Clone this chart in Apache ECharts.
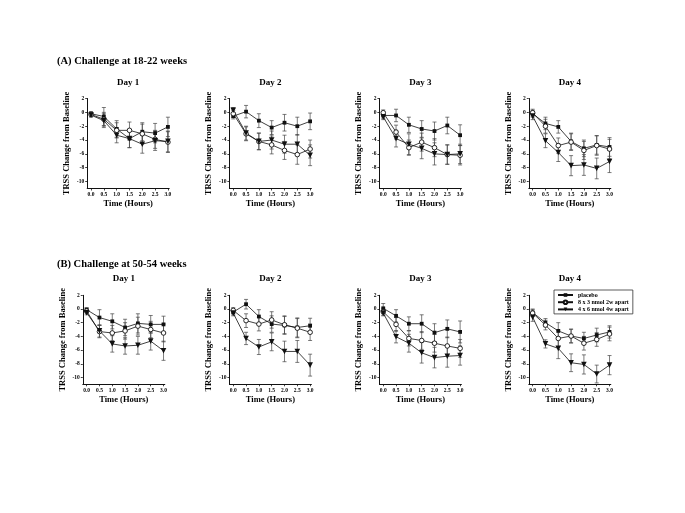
<!DOCTYPE html>
<html><head><meta charset="utf-8">
<script src="https://cdn.jsdelivr.net/npm/echarts@6/dist/echarts.min.js"></script>
<style>html,body{margin:0;padding:0;background:#fff}#c{width:685px;height:513px}</style>
</head><body><div id="c"></div>
<script>
// ---------- data ----------
const times = [0, 0.5, 1.0, 1.5, 2.0, 2.5, 3.0];
const xTicks = [0, 0.5, 1.0, 1.5, 2.0, 2.5, 3.0];
const yTicks = [2, 0, -2, -4, -6, -8, -10];
const seriesNames = ['placebo', '8 x 3 nmol 2w apart', '4 x 6 nmol 4w apart'];
const dayTitles = ['Day 1', 'Day 2', 'Day 3', 'Day 4'];
const sectionTitles = ['(A) Challenge at 18-22 weeks', '(B) Challenge at 50-54 weeks'];
const xAxisTitle = 'Time (Hours)';
const yAxisTitle = 'TRSS Change from Baseline';

// (A) Day 1
const a1Placebo = [-0.2, -0.6, -2.4, -3.8, -2.8, -3.0, -2.1];
const a1PlaceboErr = [0.3, 1.3, 1.2, 1.3, 1.3, 1.4, 1.4];
const a1Dose8x3 = [-0.3, -1.0, -2.6, -2.6, -3.1, -3.9, -4.3];
const a1Dose8x3Err = [0.3, 1.0, 1.1, 1.2, 1.4, 1.3, 1.5];
const a1Dose4x6 = [-0.4, -1.2, -3.3, -3.8, -4.6, -4.1, -4.2];
const a1Dose4x6Err = [0.3, 1.0, 1.1, 1.3, 1.3, 1.4, 1.5];
// (A) Day 2
const a2Placebo = [-0.55, 0.1, -1.2, -2.2, -1.5, -2.0, -1.3];
const a2PlaceboErr = [0.4, 0.9, 1.0, 1.0, 1.2, 1.3, 1.2];
const a2Dose8x3 = [-0.2, -3.1, -4.2, -4.7, -5.5, -6.1, -5.3];
const a2Dose8x3Err = [0.5, 1.0, 1.2, 1.3, 1.3, 1.4, 1.3];
const a2Dose4x6 = [0.3, -3.0, -4.2, -4.0, -4.6, -4.6, -6.2];
const a2Dose4x6Err = [0.4, 1.0, 1.2, 1.3, 1.3, 1.4, 1.5];
// (A) Day 3
const a3Placebo = [-0.45, -0.45, -1.8, -2.4, -2.7, -1.9, -3.3];
const a3PlaceboErr = [0.4, 0.9, 1.1, 1.2, 1.3, 1.2, 1.5];
const a3Dose8x3 = [-0.05, -2.85, -5.1, -4.3, -5.1, -6.1, -6.2];
const a3Dose8x3Err = [0.4, 1.0, 1.1, 1.3, 1.3, 1.4, 1.4];
const a3Dose4x6 = [-0.65, -3.8, -4.6, -5.2, -6.0, -6.1, -6.0];
const a3Dose4x6Err = [0.4, 1.2, 1.5, 1.5, 1.6, 1.4, 1.4];
// (A) Day 4
const a4Placebo = [-0.2, -1.6, -2.1, -4.2, -5.2, -4.7, -5.0];
const a4PlaceboErr = [0.5, 0.9, 0.9, 1.2, 1.2, 1.35, 1.35];
const a4Dose8x3 = [-0.05, -2.0, -4.8, -4.3, -5.5, -4.8, -5.3];
const a4Dose8x3Err = [0.5, 1.0, 1.1, 1.2, 1.3, 1.4, 1.4];
const a4Dose4x6 = [-0.55, -4.1, -5.8, -7.7, -7.6, -8.1, -7.1];
const a4Dose4x6Err = [0.5, 1.0, 1.3, 1.45, 1.5, 1.5, 1.6];
// (B) Day 1
const b1Placebo = [-0.1, -1.25, -1.8, -2.7, -2.1, -2.25, -2.25];
const b1PlaceboErr = [0.3, 1.15, 1.1, 1.2, 1.4, 1.3, 1.2];
const b1Dose8x3 = [-0.3, -3.3, -3.5, -3.2, -2.5, -3.0, -3.5];
const b1Dose8x3Err = [0.3, 0.9, 1.1, 1.2, 1.3, 1.2, 1.3];
const b1Dose4x6 = [-0.55, -3.2, -5.1, -5.4, -5.3, -4.7, -6.1];
const b1Dose4x6Err = [0.3, 0.9, 1.2, 1.2, 1.3, 1.3, 1.4];
// (B) Day 2
const b2Placebo = [-0.45, 0.7, -1.1, -2.2, -2.4, -2.7, -2.45];
const b2PlaceboErr = [0.4, 0.7, 1.0, 1.2, 1.3, 1.4, 1.1];
const b2Dose8x3 = [-0.2, -1.7, -2.2, -1.6, -2.3, -2.8, -3.4];
const b2Dose8x3Err = [0.4, 1.0, 1.0, 1.2, 1.3, 1.4, 1.2];
const b2Dose4x6 = [-0.6, -4.3, -5.55, -4.8, -6.2, -6.2, -8.2];
const b2Dose4x6Err = [0.4, 0.9, 1.1, 1.3, 1.5, 1.6, 1.6];
// (B) Day 3
const b3Placebo = [0.1, -1.0, -2.15, -2.15, -3.45, -2.9, -3.35];
const b3PlaceboErr = [0.7, 0.9, 1.0, 1.3, 1.3, 1.3, 1.6];
const b3Dose8x3 = [-0.4, -2.25, -4.3, -4.6, -5.0, -5.4, -5.75];
const b3Dose8x3Err = [0.5, 1.0, 1.1, 1.3, 1.3, 1.3, 1.3];
const b3Dose4x6 = [-0.6, -4.05, -5.0, -6.4, -7.1, -6.9, -6.8];
const b3Dose4x6Err = [0.4, 0.9, 1.3, 1.5, 1.5, 1.6, 1.4];
// (B) Day 4
const b4Placebo = [-0.5, -2.0, -3.2, -3.95, -4.3, -3.8, -3.35];
const b4PlaceboErr = [0.5, 0.6, 1.2, 1.0, 0.9, 1.0, 0.9];
const b4Dose8x3 = [-0.6, -2.35, -4.3, -3.95, -5.0, -4.45, -3.65];
const b4Dose8x3Err = [0.5, 0.7, 1.2, 1.0, 1.0, 1.0, 1.0];
const b4Dose4x6 = [-1.2, -5.1, -5.75, -7.85, -8.1, -9.5, -8.2];
const b4Dose4x6Err = [0.6, 0.6, 1.5, 1.3, 1.4, 1.3, 1.4];

const panels = [
  [[a1Placebo, a1PlaceboErr], [a1Dose8x3, a1Dose8x3Err], [a1Dose4x6, a1Dose4x6Err]],
  [[a2Placebo, a2PlaceboErr], [a2Dose8x3, a2Dose8x3Err], [a2Dose4x6, a2Dose4x6Err]],
  [[a3Placebo, a3PlaceboErr], [a3Dose8x3, a3Dose8x3Err], [a3Dose4x6, a3Dose4x6Err]],
  [[a4Placebo, a4PlaceboErr], [a4Dose8x3, a4Dose8x3Err], [a4Dose4x6, a4Dose4x6Err]],
  [[b1Placebo, b1PlaceboErr], [b1Dose8x3, b1Dose8x3Err], [b1Dose4x6, b1Dose4x6Err]],
  [[b2Placebo, b2PlaceboErr], [b2Dose8x3, b2Dose8x3Err], [b2Dose4x6, b2Dose4x6Err]],
  [[b3Placebo, b3PlaceboErr], [b3Dose8x3, b3Dose8x3Err], [b3Dose4x6, b3Dose4x6Err]],
  [[b4Placebo, b4PlaceboErr], [b4Dose8x3, b4Dose8x3Err], [b4Dose4x6, b4Dose4x6Err]]
];

// ---------- layout / style ----------
const FONT = "'Liberation Serif', 'Times New Roman', serif";
const INK = '#111';
const rowTops = [98.5, 295.3];
const rowHeights = [90, 89];
const gridLefts = [[87.2, 229.4, 379.4, 528.8], [82.8, 229.4, 379.4, 528.8]];
const GRID_W = 82;
const dayTitleY = [82.5, 279];
const sectionTitleY = [61, 264];
const symbols = ['rect', 'circle', 'triangle'];
const symbolSizes = [3.8, 4.6, 5.6];
const symbolRot = [0, 0, 180];
const symbolFill = [INK, '#fff', INK];
const symbolBorder = [0, 0.9, 0];

const grids = [], xAxes = [], yAxes = [], series = [], graphics = [];
for (let r = 0; r < 2; r++) {
  graphics.push({type: 'text', style: {x: 57, y: sectionTitleY[r], text: sectionTitles[r],
    fontFamily: FONT, fontSize: 10.5, fontWeight: 'bold', fill: '#000', align: 'left', verticalAlign: 'middle'}});
  for (let c = 0; c < 4; c++) {
    const p = r * 4 + c;
    const left = gridLefts[r][c];
    grids.push({left: left, top: rowTops[r], width: GRID_W, height: rowHeights[r]});
    graphics.push({type: 'text', style: {x: left + GRID_W / 2, y: dayTitleY[r], text: dayTitles[c],
      fontFamily: FONT, fontSize: 9, fontWeight: 'bold', fill: '#000', align: 'center', verticalAlign: 'middle'}});
    xAxes.push({
      gridIndex: p, type: 'value', min: -0.15, max: 3.05,
      axisLine: {show: true, onZero: false, lineStyle: {color: INK, width: 1}},
      axisTick: {show: true, customValues: xTicks, length: 2, lineStyle: {color: INK, width: 0.8}},
      axisLabel: {customValues: xTicks, formatter: v => v.toFixed(1), fontSize: 5.5, fontWeight: 'bold',
        fontFamily: FONT, color: '#000', margin: 3.5},
      splitLine: {show: false},
      name: xAxisTitle, nameLocation: 'middle', nameGap: 11,
      nameTextStyle: {fontSize: 8.5, fontWeight: 'bold', fontFamily: FONT, color: '#000'}
    });
    yAxes.push({
      gridIndex: p, type: 'value', min: -11, max: 2,
      axisLine: {show: true, onZero: false, lineStyle: {color: INK, width: 1}},
      axisTick: {show: true, customValues: yTicks, length: 2, lineStyle: {color: INK, width: 0.8}},
      axisLabel: {customValues: yTicks, fontSize: 5.5, fontWeight: 'bold', fontFamily: FONT, color: '#000', margin: 3},
      splitLine: {show: false},
      name: yAxisTitle, nameLocation: 'middle', nameGap: 16, nameRotate: 90,
      nameTextStyle: {fontSize: 8.5, fontWeight: 'bold', fontFamily: FONT, color: '#000'}
    });
    panels[p].forEach((pair, s) => {
      const mean = pair[0], err = pair[1];
      series.push({
        type: 'custom', name: 'err-' + p + '-' + s, xAxisIndex: p, yAxisIndex: p,
        data: times.map((t, i) => [t, mean[i], err[i]]),
        encode: {x: 0, y: 1}, silent: true, z: 2,
        renderItem: function (params, api) {
          const x = api.value(0), m = api.value(1), e = api.value(2);
          const top = api.coord([x, m + e]);
          const bot = api.coord([x, m - e]);
          const cw = 2;
          const st = {stroke: '#444', lineWidth: 0.7};
          return {type: 'group', children: [
            {type: 'line', shape: {x1: top[0], y1: top[1], x2: bot[0], y2: bot[1]}, style: st},
            {type: 'line', shape: {x1: top[0] - cw, y1: top[1], x2: top[0] + cw, y2: top[1]}, style: st},
            {type: 'line', shape: {x1: bot[0] - cw, y1: bot[1], x2: bot[0] + cw, y2: bot[1]}, style: st}
          ]};
        }
      });
      series.push({
        type: 'line', name: seriesNames[s], xAxisIndex: p, yAxisIndex: p,
        data: times.map((t, i) => [t, mean[i]]),
        symbol: symbols[s], symbolSize: symbolSizes[s], symbolRotate: symbolRot[s],
        showAllSymbol: true, z: 3, animation: false,
        lineStyle: {color: INK, width: 0.8},
        itemStyle: {color: symbolFill[s], borderColor: INK, borderWidth: symbolBorder[s]}
      });
    });
  }
}

const chart = echarts.init(document.getElementById('c'), null, {renderer: 'canvas'});
chart.setOption({
  backgroundColor: '#fff',
  animation: false,
  grid: grids, xAxis: xAxes, yAxis: yAxes, series: series,
  graphic: graphics,
  legend: {
    data: seriesNames, orient: 'vertical', left: 554, top: 290,
    padding: [2, 4, 1.5, 3], itemGap: 1.2, itemWidth: 15, itemHeight: 4.5,
    borderColor: '#333', borderWidth: 0.8, selectedMode: false,
    textStyle: {fontSize: 6, fontWeight: 'bold', fontFamily: FONT, color: '#000'}
  }
});
</script></body></html>
